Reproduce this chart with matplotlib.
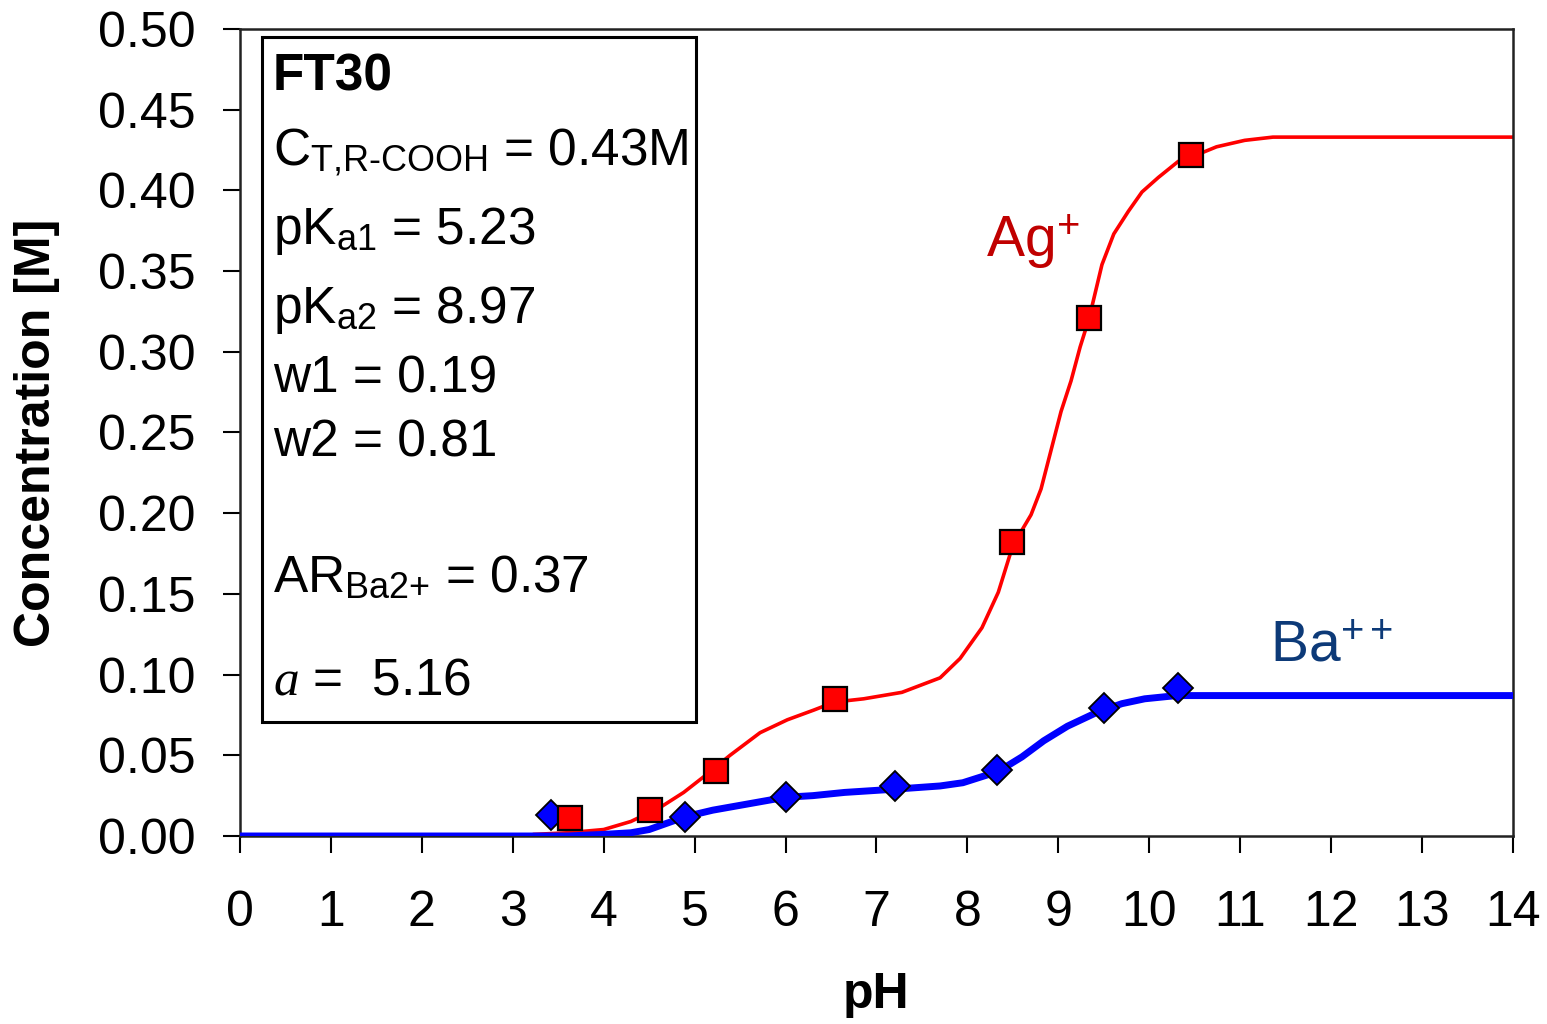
import matplotlib
matplotlib.use("Agg")
import matplotlib.pyplot as plt
from matplotlib.patches import Rectangle

plt.rcParams['font.family'] = ['Liberation Sans', 'DejaVu Sans']
plt.rcParams['mathtext.fontset'] = 'custom'
plt.rcParams['mathtext.rm'] = 'Liberation Sans'
plt.rcParams['mathtext.it'] = 'Liberation Serif:italic'
plt.rcParams['mathtext.bf'] = 'Liberation Sans:bold'

# model curves
ag_curve_ph = [3.24, 3.6, 4.0, 4.3, 4.63, 4.88, 5.13, 5.39, 5.72, 6.02, 6.31, 6.54, 6.86,
               7.28, 7.7, 7.92, 8.16, 8.34, 8.5, 8.7, 8.81, 8.92, 9.03, 9.14, 9.24, 9.34,
               9.48, 9.61, 9.77, 9.92, 10.1, 10.32, 10.48, 10.74, 11.05, 11.36, 14]
ag_curve_c = [0.001, 0.002, 0.004, 0.009, 0.018, 0.027, 0.038, 0.050, 0.064, 0.072, 0.078,
              0.083, 0.085, 0.089, 0.098, 0.110, 0.129, 0.151, 0.180, 0.199, 0.215, 0.239,
              0.263, 0.282, 0.303, 0.321, 0.354, 0.373, 0.387, 0.399, 0.408, 0.418, 0.421,
              0.427, 0.431, 0.433, 0.433]

ba_curve_ph = [0, 3.6, 4.0, 4.3, 4.5, 4.7, 4.9, 5.2, 5.5, 5.8, 6.0, 6.3, 6.65, 7.2, 7.7,
               7.95, 8.34, 8.6, 8.84, 9.1, 9.44, 9.7, 9.95, 10.3, 10.6, 14]
ba_curve_c = [0.0, 0.0, 0.001, 0.002, 0.004, 0.008, 0.012, 0.016, 0.019, 0.022, 0.024,
              0.025, 0.027, 0.029, 0.031, 0.033, 0.040, 0.049, 0.059, 0.068, 0.077, 0.082,
              0.085, 0.087, 0.087, 0.087]

# measured points
ag_ph = [3.63, 4.51, 5.23, 6.54, 8.49, 9.34, 10.46]
ag_c = [0.011, 0.016, 0.040, 0.085, 0.182, 0.321, 0.422]
ba_ph = [3.42, 4.89, 6.00, 7.20, 8.33, 9.50, 10.32]
ba_c = [0.013, 0.012, 0.024, 0.031, 0.041, 0.079, 0.092]

xticks = list(range(0, 15))
yticks = [0.0, 0.05, 0.10, 0.15, 0.20, 0.25, 0.30, 0.35, 0.40, 0.45, 0.50]

box_lines = [
    (r'C$_{\text{T,R-COOH}}$ = 0.43M', 0.8325),
    (r'pK$_{\text{a1}}$ = 5.23', 0.7333),
    (r'pK$_{\text{a2}}$ = 8.97', 0.6352),
    ('w1 = 0.19', 0.5496),
    ('w2 = 0.81', 0.4702),
    (r'AR$_{\text{Ba2+}}$ = 0.37', 0.3027),
    (r'$\mathit{a}$ =  5.16', 0.1749),
]

fig = plt.figure(figsize=(15.47, 10.24), dpi=100)
ax = fig.add_axes([0.1551, 0.1836, 0.8229, 0.7881])

ax.plot(ag_curve_ph, ag_curve_c, color='#FF0000', lw=2.6, zorder=2)
ax.plot(ba_curve_ph, ba_curve_c, color='#0000FF', lw=5, zorder=3)
ax.plot(ba_ph, ba_c, 'D', ms=15, mfc='#0000FF', mec='black', mew=1.3, zorder=4,
        clip_on=False)
ax.plot(ag_ph, ag_c, 's', ms=17, mfc='#FF0000', mec='black', mew=1.6, zorder=5,
        clip_on=False)

ax.set_xlim(0, 14)
ax.set_ylim(0, 0.5)
ax.set_xticks(xticks)
ax.set_yticks(yticks)
ax.set_yticklabels(['%.2f' % v for v in yticks])
ax.tick_params(axis='both', direction='out', length=12, width=1.5, labelsize=36)
ax.tick_params(axis='y', pad=20)
ax.tick_params(axis='x', pad=27)
for s in ax.spines.values():
    s.set_linewidth(1.8)
    s.set_color('#222222')

ax.set_xlabel('pH', fontsize=36, fontweight='bold')
ax.set_ylabel('Concentration [M]', fontsize=36, fontweight='bold')
ax.xaxis.set_label_coords(0.5, -0.169)
ax.yaxis.set_label_coords(-0.1414, 0.5)

# parameter box
ax.add_patch(Rectangle((0.0173, 0.1414), 0.3409, 0.8486, transform=ax.transAxes,
                       fill=False, edgecolor='black', lw=2.2, zorder=6))
ax.text(0.026, 0.9243, 'FT30', transform=ax.transAxes, fontsize=37,
        fontweight='bold', va='baseline', ha='left', zorder=7)
for txt, yy in box_lines:
    ax.text(0.026, yy, txt, transform=ax.transAxes, fontsize=37,
            va='baseline', ha='left', zorder=7)

ax.text(8.21, 0.3586, r'Ag$^{+}$', fontsize=41, color='#C00000', va='baseline')
ax.text(11.33, 0.108, r'Ba$^{++}$', fontsize=41, color='#0D3A78', va='baseline')

fig.savefig('out.png', dpi=100)
